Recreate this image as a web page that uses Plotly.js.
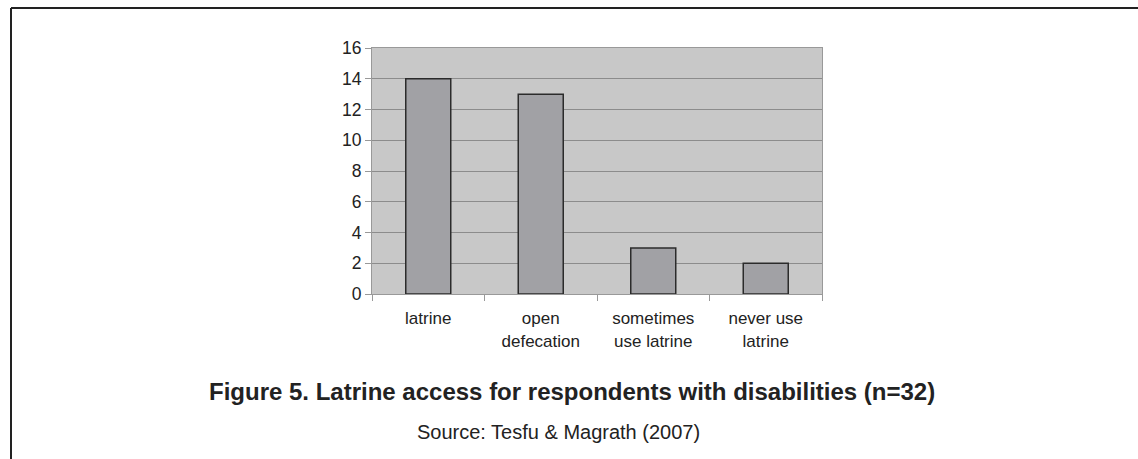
<!DOCTYPE html>
<html>
<head>
<meta charset="utf-8">
<script src="https://cdn.plot.ly/plotly-3.0.1.min.js"></script>
<style>html,body{margin:0;padding:0;background:#fff;}#chart{width:1138px;height:459px;}</style>
</head>
<body>
<div id="chart"></div>
<script>
const categories = ["latrine", "open<br>defecation", "sometimes<br>use latrine", "never use<br>latrine"];
const counts = [14, 13, 3, 2];
const yTicks = [0, 2, 4, 6, 8, 10, 12, 14, 16];
const titleText = "Figure 5. Latrine access for respondents with disabilities (n=32)";
const sourceText = "Source: Tesfu &amp; Magrath (2007)";

const L = 372, R = 822, T = 48, B = 294, W = 1138, H = 459;
const pw = R - L, ph = B - T;
const px = x => (x - L) / pw;
const py = y => (B - y) / ph;

const trace = {
  type: "bar",
  x: categories,
  y: counts,
  width: 0.4,
  marker: {color: "#a1a1a5", line: {color: "#2b2b2b", width: 1.5}},
  hoverinfo: "skip"
};

const layout = {
  width: W, height: H,
  margin: {l: L, r: W - R, t: T, b: H - B, pad: 0},
  paper_bgcolor: "#ffffff",
  plot_bgcolor: "#c8c8c8",
  font: {family: "Liberation Sans, Arial, sans-serif", color: "#222222", size: 17},
  showlegend: false,
  bargap: 0.6,
  xaxis: {
    type: "category",
    tickson: "boundaries",
    ticks: "outside", ticklen: 6, tickcolor: "#999999", tickwidth: 1,
    ticklabelstandoff: 9,
    showline: true, linecolor: "#999999", linewidth: 1, mirror: true,
    showgrid: false,
    tickfont: {size: 17, color: "#222222"},
    fixedrange: true
  },
  yaxis: {
    range: [0, 16],
    tickvals: yTicks,
    ticktext: yTicks.map(String),
    ticks: "outside", ticklen: 6, tickcolor: "#999999", tickwidth: 1,
    showline: true, linecolor: "#999999", linewidth: 1, mirror: true,
    showgrid: true, gridcolor: "#8c8c8c", gridwidth: 1,
    zeroline: false,
    tickfont: {size: 17.5, color: "#222222"},
    fixedrange: true
  },
  shapes: [
    {type: "line", xref: "paper", yref: "paper", x0: px(11), x1: px(11), y0: py(8), y1: py(470), line: {color: "#222222", width: 2}},
    {type: "line", xref: "paper", yref: "paper", x0: px(11), x1: px(1150), y0: py(8), y1: py(8), line: {color: "#222222", width: 2}}
  ],
  annotations: [
    {text: "<b>" + titleText + "</b>", xref: "paper", yref: "paper", x: px(572), y: py(391), xanchor: "center", yanchor: "middle", showarrow: false, font: {size: 24, color: "#222222"}},
    {text: sourceText, xref: "paper", yref: "paper", x: px(558), y: py(432), xanchor: "center", yanchor: "middle", showarrow: false, font: {size: 20, color: "#222222"}}
  ]
};

Plotly.newPlot("chart", [trace], layout, {displayModeBar: false, staticPlot: true});
</script>
</body>
</html>
